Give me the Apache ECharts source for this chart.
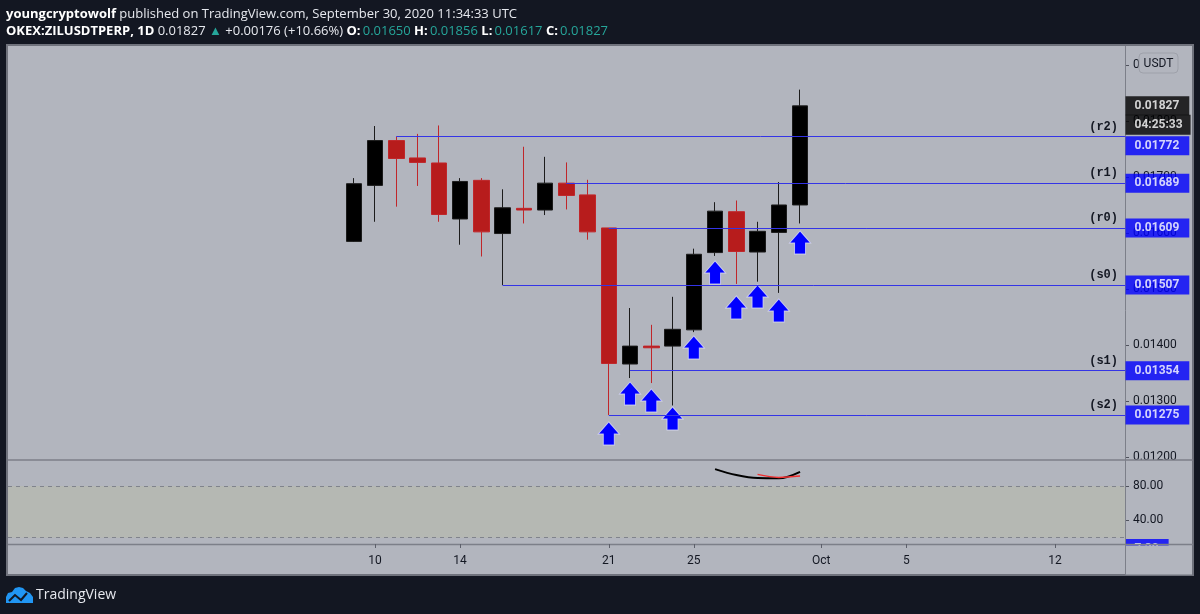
<!DOCTYPE html>
<html>
<head>
<meta charset="utf-8">
<script src="https://cdn.jsdelivr.net/npm/echarts@6/dist/echarts.min.js"></script>
<style>
html,body{margin:0;padding:0;background:#131722;}
#c{width:1200px;height:614px;}
</style>
</head>
<body>
<div id="c"></div>
<script>
// ---- data (day of September; Oct 1 = 31) ----
const days   = [9,10,11,12,13,14,15,16,17,18,19,20,21,22,23,24,25,26,27,28,29,30];
const openP  = [0.01585,0.01685,0.01765,0.01734,0.01725,0.01625,0.01694,0.01599,0.01644,0.01641,0.01689,0.01668,0.01609,0.01366,0.01398,0.01398,0.01427,0.01565,0.01638,0.01566,0.01601,0.01650];
const closeP = [0.01688,0.01765,0.01733,0.01726,0.01633,0.01692,0.01602,0.01645,0.01641,0.01689,0.01667,0.01602,0.01367,0.01398,0.01395,0.01428,0.01562,0.01639,0.01567,0.01603,0.01650,0.01827];
const lowP   = [0.01584,0.01620,0.01647,0.01684,0.01620,0.01579,0.01558,0.01507,0.01617,0.01632,0.01642,0.01588,0.01275,0.01341,0.01332,0.01292,0.01423,0.01559,0.01509,0.01513,0.01493,0.01617];
const highP  = [0.01698,0.01791,0.01772,0.01777,0.01792,0.01698,0.01698,0.01678,0.01754,0.01736,0.01726,0.01695,0.01609,0.01466,0.01436,0.01486,0.01572,0.01655,0.01658,0.01620,0.01691,0.01856];

const levelNames  = ['(r2)','(r1)','(r0)','(s0)','(s1)','(s2)'];
const levelValues = [0.01772,0.01689,0.01609,0.01507,0.01354,0.01275];
const levelStart  = [11,19,21,16,22,21];

const arrowDays   = [21,22,23,24,25,26,27,28,29,30];
const arrowPrices = [0.012625,0.013339,0.013214,0.012893,0.014161,0.015500,0.014875,0.015071,0.014821,0.016036];

const kDays = [26,27,28,29,30];
const kVals = [99.6,92.7,89.2,89.0,96.5];
const dDays = [28,29,30];
const dVals = [93.5,90.0,91.5];

const xTickDays   = [10,14,21,25,31,35,42];
const xTickLabels = ['10','14','21','25','Oct','5','12'];
const priceTicks  = [0.012,0.013,0.014,0.015,0.016,0.017,0.018,0.019];
const oscTicks    = [40,80];

const lastClose = 0.01827;
const countdown = '04:25:33';
const oscLastLabel = 7.3;

// ---- axis bounds ----
const X_MIN = -7.27, X_MAX = 45.29;
const Y_MIN = 0.011946, Y_MAX = 0.019339;
const O_MIN = 12.6, O_MAX = 110.2;

const FONT = 'Roboto, "Noto Sans", sans-serif';
const HFONT = '"Open Sans", "Noto Sans", sans-serif';

const candleRows = days.map((d,i)=>[d, openP[i], closeP[i], lowP[i], highP[i]]);

const levelLines = levelValues.map((v,i)=>[
  {coord:[levelStart[i], v], label:{formatter: levelNames[i]}},
  {coord:[X_MAX, v]}
]);

// side labels
const sideItems = [
  {name: lastClose.toFixed(5), value:[X_MAX, lastClose], label:{backgroundColor:'#000000', padding:[3,10,3,9]}},
  {name: countdown, value:[X_MAX, lastClose], label:{backgroundColor:'#000000', offset:[0,19], padding:[4,8,3,9]}}
].concat(levelValues.map((v,i)=>({
  name: v.toFixed(5), value:[X_MAX, v],
  label:{backgroundColor:'#0000ff', offset: i===0 ? [0,9] : [0,0]}
})));

const option = {
  backgroundColor:'#131722',
  animation:false,
  grid:[
    {left:8, right:75, top:46, height:414, outerBoundsMode:'none', containLabel:false},
    {left:8, right:75, top:460, height:84, outerBoundsMode:'none', containLabel:false}
  ],
  xAxis:[
    {type:'value', gridIndex:0, min:X_MIN, max:X_MAX, show:false, splitLine:{show:false}, axisLine:{onZero:false}},
    {type:'value', gridIndex:1, min:X_MIN, max:X_MAX, z:5, position:'bottom',
     splitLine:{show:false},
     axisLine:{show:false, onZero:false},
     axisTick:{show:true, inside:false, length:4, customValues:xTickDays, lineStyle:{color:'#5d606b'}},
     axisLabel:{show:true, customValues:xTickDays, margin:11, color:'#131722', fontFamily:FONT, fontSize:12,
       formatter:(v)=>{const i = xTickDays.indexOf(v); return i>=0 ? xTickLabels[i] : '';}}
    }
  ],
  yAxis:[
    {type:'value', gridIndex:0, position:'right', min:Y_MIN, max:Y_MAX,
     splitLine:{show:false}, axisLine:{show:false, onZero:false},
     axisTick:{show:true, inside:false, length:4, customValues:priceTicks, lineStyle:{color:'#50535e'}},
     axisLabel:{show:true, customValues:priceTicks, margin:8, color:'#131722', fontFamily:FONT, fontSize:12,
       formatter:(v)=>v.toFixed(5)}
    },
    {type:'value', gridIndex:1, position:'right', min:O_MIN, max:O_MAX,
     splitLine:{show:false}, axisLine:{show:false, onZero:false},
     axisTick:{show:true, inside:false, length:4, customValues:oscTicks, lineStyle:{color:'#50535e'}},
     axisLabel:{show:true, customValues:oscTicks, margin:8, color:'#131722', fontFamily:FONT, fontSize:12,
       formatter:(v)=>v.toFixed(2)}
    }
  ],
  series:[
    {
      type:'candlestick', xAxisIndex:0, yAxisIndex:0,
      data:candleRows, encode:{x:0, y:[1,2,3,4]},
      barWidth:16,
      itemStyle:{color:'#000000', color0:'#b71c1c', borderColor:'#1c1c1c', borderColor0:'#c0262a', borderWidth:1},
      markLine:{
        silent:true, symbol:['none','none'],
        lineStyle:{color:'#3434e6', width:1, type:'solid'},
        label:{show:true, position:'insideEndTop', distance:[7,4], color:'#131722',
               fontFamily:'"Liberation Mono", "DejaVu Sans Mono", monospace', fontWeight:'bold', fontSize:12},
        data:[{yAxis:lastClose, lineStyle:{type:[1,2], color:'#5d606b', width:1}, label:{show:false}}].concat(levelLines)
      }
    },
    {
      type:'scatter', xAxisIndex:0, yAxisIndex:0, z:4,
      data: arrowDays.map((d,i)=>[d, arrowPrices[i]]),
      symbol:'path://M10.5,0 L21,12 L16,12 L16,23 L5,23 L5,12 L0,12 Z',
      symbolSize:[21,23], symbolOffset:[0,'50%'],
      itemStyle:{color:'#0000ff', borderColor:'rgba(225,225,255,0.75)', borderWidth:1, opacity:1}
    },
    {
      type:'scatter', xAxisIndex:0, yAxisIndex:0, z:6, clip:false,
      symbolSize:1, itemStyle:{color:'rgba(0,0,0,0)'},
      data: sideItems,
      label:{show:true, position:'right', distance:0, formatter:'{b}', color:'#ffffff',
             fontFamily:FONT, fontSize:12, fontWeight:'bold', lineHeight:13, padding:[3,10,3,9]}
    },
    {
      type:'line', xAxisIndex:1, yAxisIndex:1, z:3,
      data: kDays.map((d,i)=>[d,kVals[i]]),
      smooth:0.35, showSymbol:false,
      lineStyle:{color:'#000000', width:2},
      markArea:{silent:true, itemStyle:{color:'#b5b8b3'}, data:[[{yAxis:20},{yAxis:80}]]},
      markLine:{silent:true, symbol:['none','none'], label:{show:false},
        lineStyle:{color:'#80838c', type:[4,4], width:1}, data:[{yAxis:80},{yAxis:20}]}
    },
    {
      type:'line', xAxisIndex:1, yAxisIndex:1, z:3,
      data: dDays.map((d,i)=>[d,dVals[i]]),
      smooth:0.35, showSymbol:false,
      lineStyle:{color:'#f23030', width:1.5}
    },
    {
      type:'scatter', xAxisIndex:1, yAxisIndex:1, z:2, clip:false,
      symbolSize:1, itemStyle:{color:'rgba(0,0,0,0)'},
      data:[{name: oscLastLabel.toFixed(2), value:[X_MAX, oscLastLabel]}],
      label:{show:true, position:'right', distance:0, formatter:'{b}', color:'#ffffff', backgroundColor:'#0000ff',
             fontFamily:FONT, fontSize:12, fontWeight:'bold', lineHeight:13, padding:[3,10,3,9]}
    }
  ],
  graphic:[
    {type:'rect', silent:true, z:-10, shape:{x:7, y:45, width:1186, height:530},
     style:{fill:'#b2b5be', stroke:'#6f727c', lineWidth:2}},
    {type:'rect', silent:true, z:3, shape:{x:1126, y:545.5, width:66, height:29}, style:{fill:'#b2b5be'}},
    {type:'line', silent:true, z:4, shape:{x1:8, y1:460, x2:1193, y2:460}, style:{stroke:'#7c7f89', lineWidth:1.5}},
    {type:'line', silent:true, z:4, shape:{x1:8, y1:544.5, x2:1193, y2:544.5}, style:{stroke:'#7c7f89', lineWidth:1.5}},
    {type:'line', silent:true, z:4, shape:{x1:1125.5, y1:46, x2:1125.5, y2:575}, style:{stroke:'#7c7f89', lineWidth:1}},
    {type:'rect', silent:true, z:10, shape:{x:1139, y:53, width:39, height:20, r:4},
     style:{fill:'#b2b5be', stroke:'#9ea1aa', lineWidth:1}},
    {type:'text', silent:true, z:11, x:1158.5, y:63.5,
     style:{text:'USDT', fill:'#131722', font:'12px '+FONT, align:'center', verticalAlign:'middle'}},
    {type:'text', silent:true, z:11, x:6, y:14,
     style:{text:'{b|youngcryptowolf} published on TradingView.com, September 30, 2020 11:34:33 UTC',
            fill:'#e6e8ee', font:'13px '+HFONT, verticalAlign:'middle',
            rich:{b:{fontWeight:'bold', fill:'#ffffff', fontSize:13, fontFamily:HFONT}}}},
    {type:'text', silent:true, z:11, x:6, y:31,
     style:{text:'{b|OKEX:ZILUSDTPERP, 1D} 0.01827 {g|▲} +0.00176 (+10.66%) {b|O:}\u2009{g|0.01650} {b|H:}\u2009{g|0.01856} {b|L:}\u2009{g|0.01617} {b|C:}\u2009{g|0.01827}',
            fill:'#e6e8ee', font:'13px '+HFONT, verticalAlign:'middle',
            rich:{b:{fontWeight:'bold', fill:'#ffffff', fontSize:13, fontFamily:HFONT},
                  g:{fill:'#26a69a', fontSize:13, fontFamily:HFONT}}}},
    {type:'polygon', silent:true, z:11,
     shape:{points:[[6,603],[6,597],[8,593],[12,592],[15,588],[19,587],[23,588],[26,591],[30,593],[33,597],[33,603]]},
     style:{fill:'#2196f3'}},
    {type:'polyline', silent:true, z:12, shape:{points:[[9,601],[15,595],[21,600],[27,593]]},
     style:{stroke:'#131722', lineWidth:2, fill:null}},
    {type:'text', silent:true, z:11, x:36, y:595,
     style:{text:'TradingView', fill:'#e6e8ee', font:'14px '+HFONT, verticalAlign:'middle'}}
  ]
};

const chart = echarts.init(document.getElementById('c'), null, {width:1200, height:614});
chart.setOption(option);
</script>
</body>
</html>
